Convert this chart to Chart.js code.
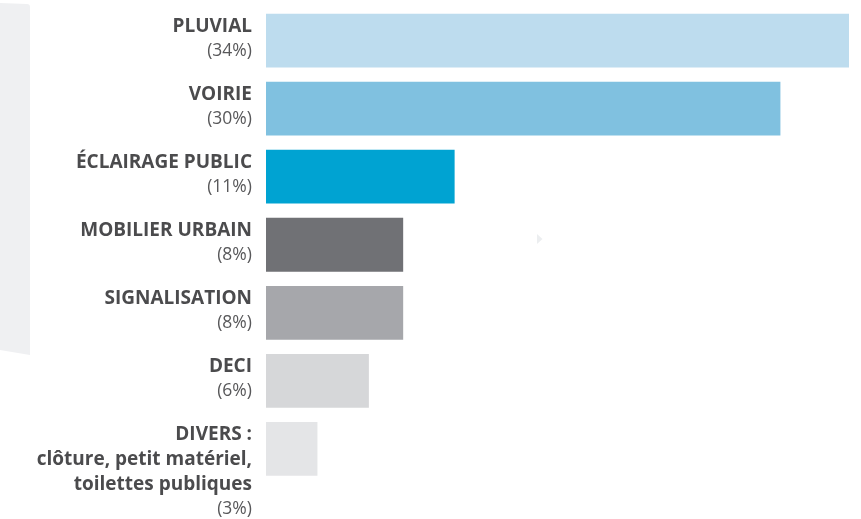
<!DOCTYPE html>
<html>
<head>
<meta charset="utf-8">
<script src="https://cdn.jsdelivr.net/npm/chart.js@4/dist/chart.umd.min.js"></script>
<style>
  html, body { margin: 0; padding: 0; background: #ffffff; }
  #wrap { width: 861px; height: 519px; position: relative; }
</style>
</head>
<body>
<div id="wrap"><canvas id="c" width="861" height="519"></canvas></div>
<script>
const categories = ['PLUVIAL', 'VOIRIE', 'ÉCLAIRAGE PUBLIC', 'MOBILIER URBAIN', 'SIGNALISATION', 'DECI', 'DIVERS :'];
const nameLines = [
  ['PLUVIAL'],
  ['VOIRIE'],
  ['ÉCLAIRAGE PUBLIC'],
  ['MOBILIER URBAIN'],
  ['SIGNALISATION'],
  ['DECI'],
  ['DIVERS :', 'clôture, petit matériel,', 'toilettes publiques']
];
const shares = [34, 30, 11, 8, 8, 6, 3];
const shareLabels = ['(34%)', '(30%)', '(11%)', '(8%)', '(8%)', '(6%)', '(3%)'];
const barColors = ['#bddcee', '#80c1e0', '#00a3d2', '#707175', '#a6a7ab', '#d6d7d9', '#e4e5e7'];

const backdrop = {
  id: 'backdrop',
  beforeDraw(chart) {
    const ctx = chart.ctx;
    ctx.save();
    ctx.fillStyle = '#eff0f2';
    ctx.beginPath();
    ctx.moveTo(0, 3);
    ctx.lineTo(27, 4);
    ctx.quadraticCurveTo(30, 4, 30, 7);
    ctx.lineTo(30, 355);
    ctx.lineTo(0, 350);
    ctx.closePath();
    ctx.fill();
    ctx.fillStyle = '#eceef0';
    ctx.beginPath();
    ctx.moveTo(537, 234);
    ctx.lineTo(537, 244);
    ctx.lineTo(542.5, 239);
    ctx.closePath();
    ctx.fill();
    ctx.restore();
  }
};

const sideLabels = {
  id: 'sideLabels',
  afterDraw(chart) {
    const ctx = chart.ctx;
    const y = chart.scales.y;
    const meta = chart.getDatasetMeta(0);
    const xRight = 252;
    ctx.save();
    ctx.textAlign = 'right';
    ctx.textBaseline = 'alphabetic';
    categories.forEach((cat, i) => {
      const bar = meta.data[i];
      const top = y.getPixelForValue(i) - bar.height / 2;
      let base = top + 18;
      ctx.fillStyle = '#4b4b4d';
      ctx.font = 'bold 19px "Open Sans", "Noto Sans", sans-serif';
      nameLines[i].forEach((line, k) => {
        if (k > 0) base += 25;
        ctx.fillText(line, xRight, base);
      });
      base += 24;
      ctx.fillStyle = '#58585a';
      ctx.font = '17.5px "Open Sans", "Noto Sans", sans-serif';
      ctx.fillText(shareLabels[i], xRight, base);
    });
    ctx.restore();
  }
};

new Chart(document.getElementById('c'), {
  type: 'bar',
  data: {
    labels: categories,
    datasets: [{
      data: shares,
      backgroundColor: barColors,
      borderWidth: 0,
      barPercentage: 0.79,
      categoryPercentage: 1.0
    }]
  },
  options: {
    indexAxis: 'y',
    responsive: false,
    animation: false,
    events: [],
    layout: { padding: { left: 266, right: 12, top: 6.5, bottom: 36 } },
    scales: {
      x: { display: false, min: 0, max: 34, grid: { display: false } },
      y: { display: false, grid: { display: false } }
    },
    plugins: {
      legend: { display: false },
      tooltip: { enabled: false }
    }
  },
  plugins: [backdrop, sideLabels]
});
</script>
</body>
</html>
